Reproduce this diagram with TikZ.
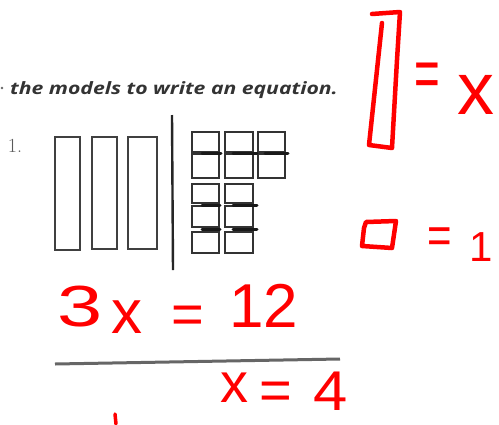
\documentclass[tikz,border=0pt]{standalone}
\usepackage{fontspec}
\usepackage{graphicx}
\newfontfamily\handfont{Liberation Sans}
\newfontfamily\printfont{Open Sans}
\tikzset{
  hand/.style={red, line width=4.5pt, line cap=round, line join=round},
  redtxt/.style={text=red, inner sep=0pt, anchor=center},
  tallbar/.style={draw=black!75, line width=1.5pt},
  unitsq/.style={draw=black!80, line width=1.8pt},
  smear/.style={black!90, line width=3pt, line cap=round},
}
\newcommand{\taleq}[1]{\scalebox{1}[#1]{=}}
\begin{document}
\begin{tikzpicture}[x=1pt,y=-1pt]
\useasboundingbox (0,0) rectangle (499,424);
\fill[white] (0,0) rectangle (499,424);

% printed text
\fill[black!60] (2,88) circle (1.4);
\node[anchor=base west, inner sep=0pt, text=black!80,
      font=\printfont\itshape\bfseries\fontsize{17}{20}\selectfont] (title) at (10,94) {\scalebox{1.245}[1]{the models to write an equation.}};
\node[anchor=center, inner sep=0pt, text=black!65, font=\fontsize{20}{20}\selectfont] (num) at (15,146) {1.};

% algebra tiles: three x-bars
\draw[tallbar] (55,137) rectangle (80,250);
\draw[tallbar] (92,137) rectangle (117,249);
\draw[tallbar] (128,137) rectangle (157,249);

% divider
\draw[black!85, line width=2.4pt] (172,115) -- (173,270);

% unit squares
\foreach \x/\w in {192/27, 225/28} {
  \draw[unitsq] (\x,132) rectangle ++(\w,20);
  \draw[unitsq] (\x,154) rectangle ++(\w,24);
  \draw[unitsq] (\x,184) rectangle ++(\w,19);
  \draw[unitsq] (\x,206) rectangle ++(\w,21);
  \draw[unitsq] (\x,232) rectangle ++(\w,21);
}
\draw[unitsq] (258,132) rectangle ++(27,20);
\draw[unitsq] (258,154) rectangle ++(27,24);
% dark smears
\draw[smear] (202,153) -- (221,153);
\draw[smear] (233,153) -- (257,153);
\draw[smear] (265,153) -- (288,153);
\draw[smear] (202,205) -- (220,205);
\draw[smear] (233,205) -- (257,205);
\draw[smear] (202,229) -- (220,229);
\draw[smear] (233,229) -- (257,229);

% red legend: x-bar
\draw[hand] (382,23) -- (369,145) -- (392,148) -- (397,60) -- (400,12) -- (372,14);
\node[redtxt, font=\handfont\fontsize{44}{44}\selectfont] (eqa) at (427,80) {\taleq{1.6}};
\node[redtxt, font=\handfont\fontsize{74}{74}\selectfont] (xa) at (476,95) {x};

% red legend: unit
\draw[hand] (364,228) -- (366,222) -- (396,221) -- (392,248) -- (362,246) -- (364,228);
\node[redtxt, font=\handfont\fontsize{42}{42}\selectfont] (eqb) at (440,241) {\taleq{1.25}};
\node[redtxt, font=\handfont\fontsize{42}{42}\selectfont] (one) at (481,247) {1};

% equation 3x = 12
\node[redtxt, font=\handfont\fontsize{58}{58}\selectfont] (three) at (80,307) {\scalebox{1.4}[1]{3}};
\node[redtxt, font=\handfont\fontsize{62}{62}\selectfont] (xb) at (127,317) {x};
\node[redtxt, font=\handfont\fontsize{56}{56}\selectfont] (eqc) at (188,320) {=};
\node[redtxt, font=\handfont\fontsize{62}{62}\selectfont] (twelve) at (264,306) {12};

% rule
\draw[black!60, line width=3pt] (55,364) -- (340,359);

% x = 4
\node[redtxt, font=\handfont\fontsize{56}{56}\selectfont] (xc) at (234,388) {x};
\node[redtxt, font=\handfont\fontsize{56}{56}\selectfont] (eqd) at (276,396) {=};
\node[redtxt, font=\handfont\fontsize{56}{56}\selectfont] (four) at (331,391) {\scalebox{1.1}[1]{4}};

% stray tick
\draw[hand, line width=3.5pt] (115,414) -- (116,424);
\end{tikzpicture}
\end{document}
